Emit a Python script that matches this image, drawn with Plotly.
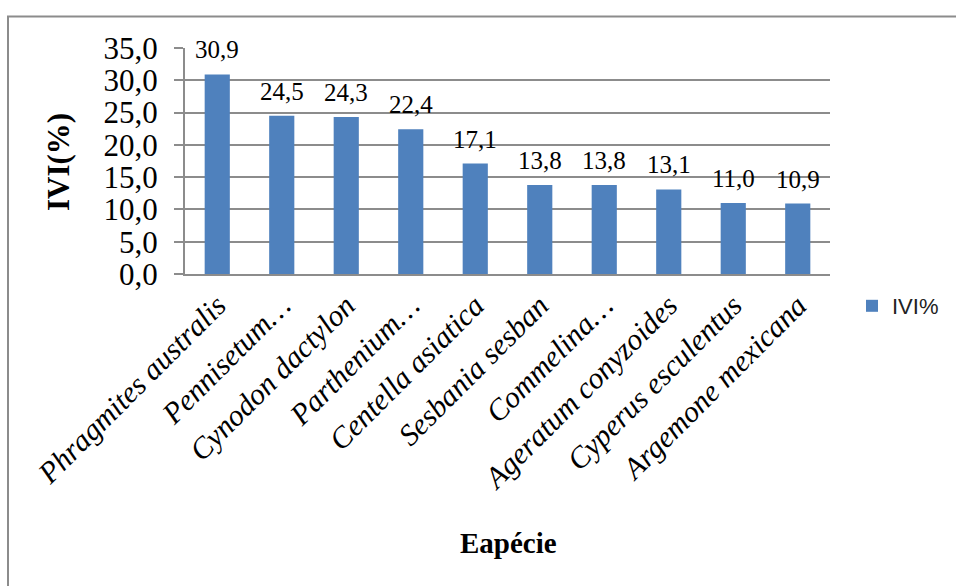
import plotly.graph_objects as go

# IVI (%) per species
especies = [
    "Phragmites australis",
    "Pennisetum\u2026",
    "Cynodon dactylon",
    "Parthenium\u2026",
    "Centella asiatica",
    "Sesbania sesban",
    "Commelina\u2026",
    "Ageratum conyzoides",
    "Cyperus esculentus",
    "Argemone mexicana",
]
ivi = [30.9, 24.5, 24.3, 22.4, 17.1, 13.8, 13.8, 13.1, 11.0, 10.9]
y_ticks = [0, 5, 10, 15, 20, 25, 30, 35]

W, H = 956, 586
L, R, T, B = 185, 126, 48, 312
pw, ph = W - L - R, H - T - B


def px_x(x):
    return (x - L) / pw


def px_y(y):
    return (T + ph - y) / ph


serif = "Liberation Serif, Times New Roman, serif"
grid = "#8c8c8c"

fig = go.Figure()
fig.add_trace(go.Bar(
    x=especies, y=ivi, name="IVI%",
    marker=dict(color="#4f81bd", line=dict(width=0)),
    width=0.39,
))

# value labels above each bar, decimal comma
value_labels = [
    dict(x=cat, y=val, xref="x", yref="y", text=f"{val:.1f}".replace(".", ","),
         xanchor="center", yanchor="bottom", yshift=9, showarrow=False,
         font=dict(family=serif, size=25, color="#000"))
    for cat, val in zip(especies, ivi)
]

fig.update_layout(
    width=W, height=H,
    margin=dict(l=L, r=R, t=T, b=B, autoexpand=False),
    paper_bgcolor="white", plot_bgcolor="white",
    separators=", ",
    showlegend=True,
    legend=dict(x=px_x(852), y=px_y(306), xanchor="left", yanchor="middle",
                font=dict(family="Liberation Sans, Arial, sans-serif", size=22, color="#222"),
                itemwidth=30, bgcolor="rgba(0,0,0,0)"),
    xaxis=dict(
        tickangle=-45,
        tickfont=dict(family=serif, size=30, color="#000", style="italic"),
        showline=True, linecolor=grid, linewidth=2,
        ticks="", showgrid=False,
        automargin=False,
    ),
    yaxis=dict(
        range=[0, 35], tickvals=y_ticks, tickformat=".1f",
        tickfont=dict(family=serif, size=31, color="#000"),
        showline=True, linecolor=grid, linewidth=2,
        ticks="outside", ticklen=9, tickcolor=grid, tickwidth=2,
        showgrid=True, gridcolor=grid, gridwidth=2,
        zeroline=False,
        ticklabelstandoff=10,
        automargin=False,
    ),
    annotations=value_labels + [
        dict(text="<b>Eapécie</b>", xref="paper", yref="paper",
             x=px_x(508), y=px_y(543), xanchor="center", yanchor="middle",
             showarrow=False, font=dict(family=serif, size=29, color="#000")),
        dict(text="<b>IVI(%)</b>", xref="paper", yref="paper", textangle=-90,
             x=px_x(58), y=px_y(162), xanchor="center", yanchor="middle",
             showarrow=False, font=dict(family=serif, size=31, color="#000")),
    ],
    shapes=[dict(
        type="rect", xref="paper", yref="paper",
        x0=px_x(8), x1=px_x(W + 10),
        y0=px_y(H + 10), y1=px_y(16.5),
        line=dict(color="#8c8c8c", width=2), fillcolor="rgba(0,0,0,0)", layer="below",
    )],
)

fig.write_html("out.html")
